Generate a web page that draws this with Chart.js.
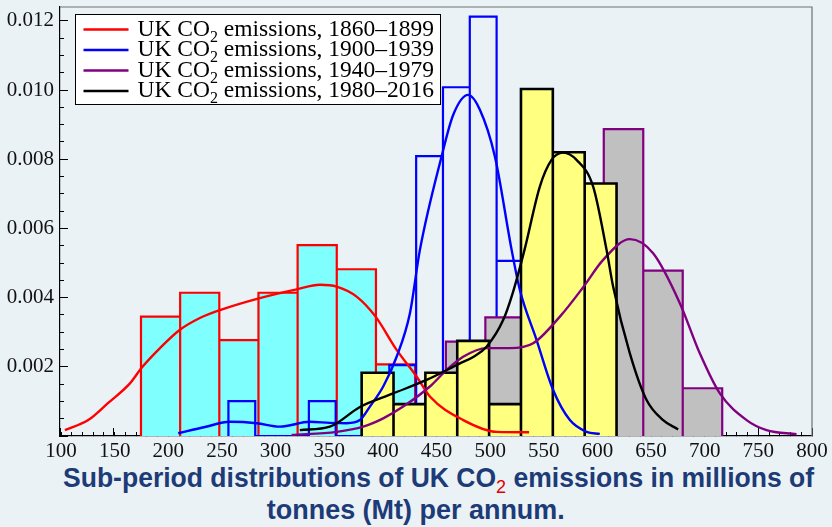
<!DOCTYPE html>
<html>
<head>
<meta charset="utf-8">
<script src="https://cdn.jsdelivr.net/npm/chart.js@4.4.0/dist/chart.umd.min.js"></script>
<style>
  html, body { margin: 0; padding: 0; background: #ebf2f6; }
  #wrap { position: relative; width: 832px; height: 462px; }
  .title {
    font-family: "Liberation Sans", Arial, sans-serif;
    font-weight: bold; font-size: 28px; line-height: 32px; color: #1d3b76;
    white-space: nowrap; text-align: center; width: 832px; box-sizing: border-box;
  }
  .title span { display: inline-block; transform-origin: 50% 50%; }
  .title sub { color: #e00000; font-size: 0.68em; vertical-align: -0.3em; line-height: 0; font-weight: normal; }
  #t1 { padding-left: 42px; }
</style>
</head>
<body>
<div id="wrap"><canvas id="chart" width="832" height="462"></canvas></div>
<div class="title" id="t1"><span>Sub-period distributions of UK CO<sub>2</sub> emissions in millions of</span></div>
<div class="title" id="t2"><span>tonnes (Mt) per annum.</span></div>
<script>
// histogram bins (Mt) and densities
const edges1860 = [174.5, 211, 247.5, 284, 320.5, 357, 393.5, 430];
const dens1860 = [0.00345, 0.00414, 0.00277, 0.00414, 0.00552, 0.00482, 0.00207];
const edges1900 = [256, 281, 306, 331, 356, 381, 406, 431, 456, 481, 506, 531];
const dens1900 = [0.00101, 0, 0, 0.00101, 0, 0, 0.00205, 0.00809, 0.01008, 0.01212, 0.00506];
const edges1940 = [458.7, 495.5, 532.3, 569.1, 605.9, 642.7, 679.5, 716.3];
const dens1940 = [0.00273, 0.00343, 0.0027, 0.0034, 0.00887, 0.00478, 0.00138];
const edges1980 = [380.2, 409.9, 439.6, 469.3, 499, 528.7, 558.4, 588.1, 617.8];
const dens1980 = [0.00183, 0.00092, 0.00183, 0.00275, 0.00092, 0.01003, 0.0082, 0.0073];

// smoothed density curves
const kde1860X = [103.6, 125.3, 143.7, 164.2, 175.1, 192.2, 210.8, 229.4, 248.1, 284.4, 319.6, 341.3, 356.9, 375.5, 393.2, 412.8, 431.4, 443.8, 474.9, 506, 536.3];
const kde1860Y = [0.00017, 0.00046, 0.00095, 0.00152, 0.00197, 0.00254, 0.00307, 0.00341, 0.00364, 0.00398, 0.00424, 0.00437, 0.00432, 0.00403, 0.00345, 0.00249, 0.00172, 0.00114, 0.00046, 0.00012, 0.00011];
const kde1900X = [209.2, 234.1, 257.4, 282.3, 304.0, 332.0, 350.6, 366.2, 378.6, 387.9, 400.3, 412.8, 425.2, 434.5, 454.7, 465.5, 479.5, 490.4, 504.4, 520.0, 527.7, 543.2, 558.7, 574.3, 589.8, 602.2];
const kde1900Y = [0.00008, 0.00026, 0.00041, 0.00037, 0.00027, 0.00041, 0.00038, 0.00037, 0.00046, 0.00085, 0.00143, 0.00229, 0.00355, 0.00538, 0.00808, 0.00928, 0.00986, 0.00943, 0.00808, 0.00538, 0.00422, 0.00278, 0.00133, 0.00046, 0.00012, 0.00006];
const kde1940X = [314.9, 356.9, 381.6, 400.3, 418.9, 443.8, 459.4, 474.8, 496.6, 518.4, 540.1, 565.0, 586.7, 605.3, 630.2, 651.9, 676.8, 695.4, 714.1, 739.0, 757.6, 785.6];
const kde1940Y = [0.00003, 0.00012, 0.00027, 0.00051, 0.00085, 0.00143, 0.00191, 0.00229, 0.00254, 0.00254, 0.00268, 0.00345, 0.0043, 0.00509, 0.00569, 0.00528, 0.00384, 0.00239, 0.00123, 0.00046, 0.00017, 0.00005];
const kde1980X = [322.6, 350.6, 378.6, 409.6, 440.7, 471.8, 485.0, 496.6, 512.1, 521.0, 532.0, 546.3, 557.2, 568.0, 580.5, 596.0, 608.5, 614.6, 630.2, 645.8, 661.2, 675.2];
const kde1980Y = [0.00017, 0.00027, 0.00084, 0.00123, 0.00162, 0.0021, 0.0023, 0.00258, 0.00335, 0.00413, 0.00538, 0.00721, 0.00798, 0.00819, 0.00798, 0.00721, 0.00538, 0.00432, 0.00239, 0.00104, 0.00046, 0.00019];

const periods = ['1860–1899', '1900–1939', '1940–1979', '1980–2016'];
const lineColors = ['#ff0000', '#0000ff', '#800080', '#000000'];

// outline of a histogram as one step path
function histPoints(edges, dens) {
  const pts = [];
  for (let i = 0; i < dens.length; i++) {
    pts.push({x: edges[i], y: 0}, {x: edges[i], y: dens[i]},
             {x: edges[i + 1], y: dens[i]}, {x: edges[i + 1], y: 0});
  }
  return pts;
}
function curvePoints(xs, ys) {
  return xs.map((x, i) => ({x: x, y: ys[i]}));
}

function hist(edges, dens, border, fillColor, width, order) {
  return {
    data: histPoints(edges, dens), borderColor: border, borderWidth: width,
    backgroundColor: fillColor, fill: fillColor ? 'origin' : false,
    tension: 0, pointRadius: 0, order: order, xAxisID: 'x', yAxisID: 'y'
  };
}
function curve(xs, ys, color, order) {
  return {
    data: curvePoints(xs, ys), borderColor: color, borderWidth: 2.4,
    fill: false, cubicInterpolationMode: 'monotone', pointRadius: 0, order: order,
    xAxisID: 'x', yAxisID: 'y'
  };
}

// legend box with subscripts, top-left inside the plot
const boxLegend = {
  id: 'boxLegend',
  afterDraw(chart) {
    const {ctx, chartArea} = chart;
    const x0 = chartArea.left + 15.5, y0 = chartArea.top + 7.5;
    ctx.save();
    ctx.fillStyle = '#fff';
    ctx.fillRect(x0, y0, 365, 90);
    ctx.strokeStyle = '#000';
    ctx.lineWidth = 1;
    ctx.strokeRect(x0, y0, 365, 90);
    periods.forEach((p, i) => {
      const ly = y0 + 15 + i * 20.5;
      ctx.strokeStyle = lineColors[i];
      ctx.lineWidth = 2.5;
      ctx.beginPath(); ctx.moveTo(x0 + 8, ly); ctx.lineTo(x0 + 53, ly); ctx.stroke();
      ctx.fillStyle = '#000';
      ctx.textBaseline = 'alphabetic';
      let tx = x0 + 62;
      const by = ly + 6;
      ctx.font = '23.5px "Liberation Serif"';
      ctx.fillText('UK CO', tx, by);
      tx += ctx.measureText('UK CO').width;
      ctx.font = '16px "Liberation Serif"';
      ctx.fillText('2', tx, by + 6);
      tx += ctx.measureText('2').width;
      ctx.font = '23.5px "Liberation Serif"';
      ctx.fillText(' emissions, ' + p, tx, by);
    });
    ctx.restore();
  }
};

// grey frame on top and right
const frame = {
  id: 'frame',
  beforeDatasetsDraw(chart) {
    const {ctx, chartArea: a} = chart;
    ctx.save();
    ctx.strokeStyle = '#707070';
    ctx.lineWidth = 1.2;
    ctx.beginPath();
    ctx.moveTo(a.left, a.top); ctx.lineTo(a.right, a.top); ctx.lineTo(a.right, a.bottom);
    ctx.stroke();
    ctx.restore();
  }
};

Chart.defaults.font.family = "'Liberation Serif', 'Times New Roman', serif";
const tickFont = {family: "'Liberation Serif', 'Times New Roman', serif", size: 21};

new Chart(document.getElementById('chart').getContext('2d'), {
  type: 'line',
  data: {
    datasets: [
      hist(edges1860, dens1860, '#ff0000', '#80ffff', 2.2, 8),
      hist(edges1900, dens1900, '#0000ff', null, 2.2, 7),
      hist(edges1940, dens1940, '#800080', '#c0c0c0', 2.2, 6),
      hist(edges1980, dens1980, '#000000', '#ffff80', 2.6, 5),
      curve(kde1860X, kde1860Y, '#ff0000', 4),
      curve(kde1900X, kde1900Y, '#0000ff', 3),
      curve(kde1940X, kde1940Y, '#800080', 2),
      curve(kde1980X, kde1980Y, '#000000', 1)
    ]
  },
  options: {
    responsive: false,
    animation: false,
    events: [],
    layout: { padding: { top: 7, right: 20, bottom: 0, left: 0 } },
    plugins: { legend: { display: false }, tooltip: { enabled: false } },
    scales: {
      x: {
        type: 'linear', min: 99, max: 800, weight: 1,
        ticks: {
          stepSize: 10, includeBounds: false, autoSkip: false, maxRotation: 0,
          padding: 7, color: '#111', font: tickFont,
          callback: v => (Math.round(v) % 50 === 0 ? String(Math.round(v)) : '')
        },
        grid: { drawOnChartArea: false, tickLength: -4, tickColor: '#000' },
        border: { color: '#000', width: 1.2 },
        afterFit: s => { s.height = 26; s.paddingLeft = 0; s.paddingRight = 0; }
      },
      y: {
        min: 0, max: 0.0124, weight: 1,
        ticks: {
          stepSize: 0.0005, includeBounds: false, autoSkip: false,
          padding: 10, color: '#111', font: tickFont,
          callback: v => {
            const k = Math.round(v / 0.0005);
            return (k > 0 && k % 4 === 0) ? (k * 0.0005).toFixed(3) : '';
          }
        },
        grid: { drawOnChartArea: false, tickLength: -4, tickColor: '#000' },
        border: { color: '#000', width: 1.2 },
        afterFit: s => { s.width = 60; s.paddingTop = 0; s.paddingBottom = 0; }
      },
      // longer marks at the labelled values
      xMajor: {
        axis: 'x', type: 'linear', position: 'bottom', min: 99, max: 800, weight: 0,
        ticks: { stepSize: 50, includeBounds: false, autoSkip: false, maxRotation: 0, callback: () => '' },
        grid: { drawOnChartArea: false, tickLength: -8, tickColor: '#000' },
        border: { display: false },
        afterFit: s => { s.height = 0; s.paddingLeft = 0; s.paddingRight = 0; }
      },
      yMajor: {
        axis: 'y', type: 'linear', position: 'left', min: 0, max: 0.0124, weight: 0,
        ticks: { stepSize: 0.002, includeBounds: false, autoSkip: false, callback: () => '' },
        grid: { drawOnChartArea: false, tickLength: -8, tickColor: '#000' },
        border: { display: false },
        afterFit: s => { s.width = 0; s.paddingTop = 0; s.paddingBottom = 0; }
      }
    }
  },
  plugins: [frame, boxLegend]
});

// squeeze the caption lines to the condensed width of the original
function fitLine(id, target) {
  const span = document.querySelector('#' + id + ' span');
  const w = span.getBoundingClientRect().width;
  span.style.transform = 'scaleX(' + (target / w) + ')';
}
fitLine('t1', 751);
fitLine('t2', 298);
</script>
</body>
</html>
